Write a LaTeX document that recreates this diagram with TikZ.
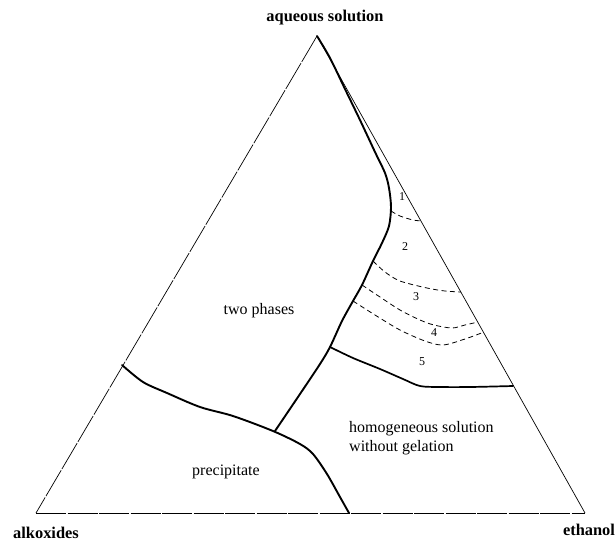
\documentclass[tikz,border=0pt]{standalone}
\usepackage{fontspec}
\setmainfont{Liberation Serif}
\begin{document}
\begin{tikzpicture}[x=1pt,y=-1pt,
  edge/.style={line width=0.7pt, dash pattern=on 30pt off 1.5pt},
  bound/.style={line width=1.9pt, line join=round, line cap=round},
  zone/.style={line width=0.8pt, dash pattern=on 5pt off 3.5pt},
  lab/.style={font=\fontsize{16}{19}\selectfont, inner sep=0pt},
  corner/.style={font=\fontsize{16.4}{19}\selectfont\bfseries, inner sep=0pt},
  num/.style={font=\fontsize{12}{14}\selectfont, inner sep=0pt}]
\useasboundingbox (0,0) rectangle (616,542);
% corners
\coordinate (A) at (317,36);
\coordinate (L) at (36,513);
\coordinate (R) at (585,513);
\draw[edge] (A) -- (L);
\draw[edge] (L) -- (R);
\draw[line width=0.7pt] (A) -- (R);
% main boundary
\draw[bound] plot[smooth, tension=0.5] coordinates {(317,36) (330,58) (345,89) (360,120) (375,152) (385,173) (389,188) (391,207) (389,226) (382,243) (373,261) (362,285) (353,301) (342,321) (330,347) (320,364) (300,394) (275,431)};
% precipitate boundary
\draw[bound] plot[smooth, tension=0.5] coordinates {(122,365) (143,382) (167,393) (200,407) (233,416) (273,431) (300,444) (313,454) (327,474) (340,497) (349,513)};
% region 5 boundary
\draw[bound, line width=1.7pt] plot[smooth, tension=0.5] coordinates {(330,347) (353,358) (380,369) (403,379) (420,386) (440,387) (470,387) (513,386)};
% dashed zone boundaries
\draw[zone] plot[smooth, tension=0.5] coordinates {(391,211) (400,216) (413,220) (422,221)};
\draw[zone] plot[smooth, tension=0.5] coordinates {(373,261) (385,272) (400,281) (427,288) (445,291) (461,292)};
\draw[zone] plot[smooth, tension=0.5] coordinates {(362,285) (380,297) (400,310) (420,320) (434,325) (452,328) (465,325) (478,322)};
\draw[zone] plot[smooth, tension=0.5] coordinates {(353,301) (375,315) (400,330) (425,341) (443,345) (465,339) (484,332)};
% labels
\node[corner] (laq) at (325,18) {aqueous solution};
\node[corner] (lal) at (46,533) {alkoxides};
\node[corner] (let) at (589,530) {ethanol};
\node[lab] (ltp) at (259,311) {two phases};
\node[lab] (lpr) at (226,472) {precipitate};
\node[lab, anchor=west, align=left] (lho) at (349,438) {homogeneous solution\\without gelation};
\node[num] (n1) at (402,197) {1};
\node[num] (n2) at (405,247) {2};
\node[num] (n3) at (416,297) {3};
\node[num] (n4) at (434,333) {4};
\node[num] (n5) at (422,362) {5};
\end{tikzpicture}
\end{document}
